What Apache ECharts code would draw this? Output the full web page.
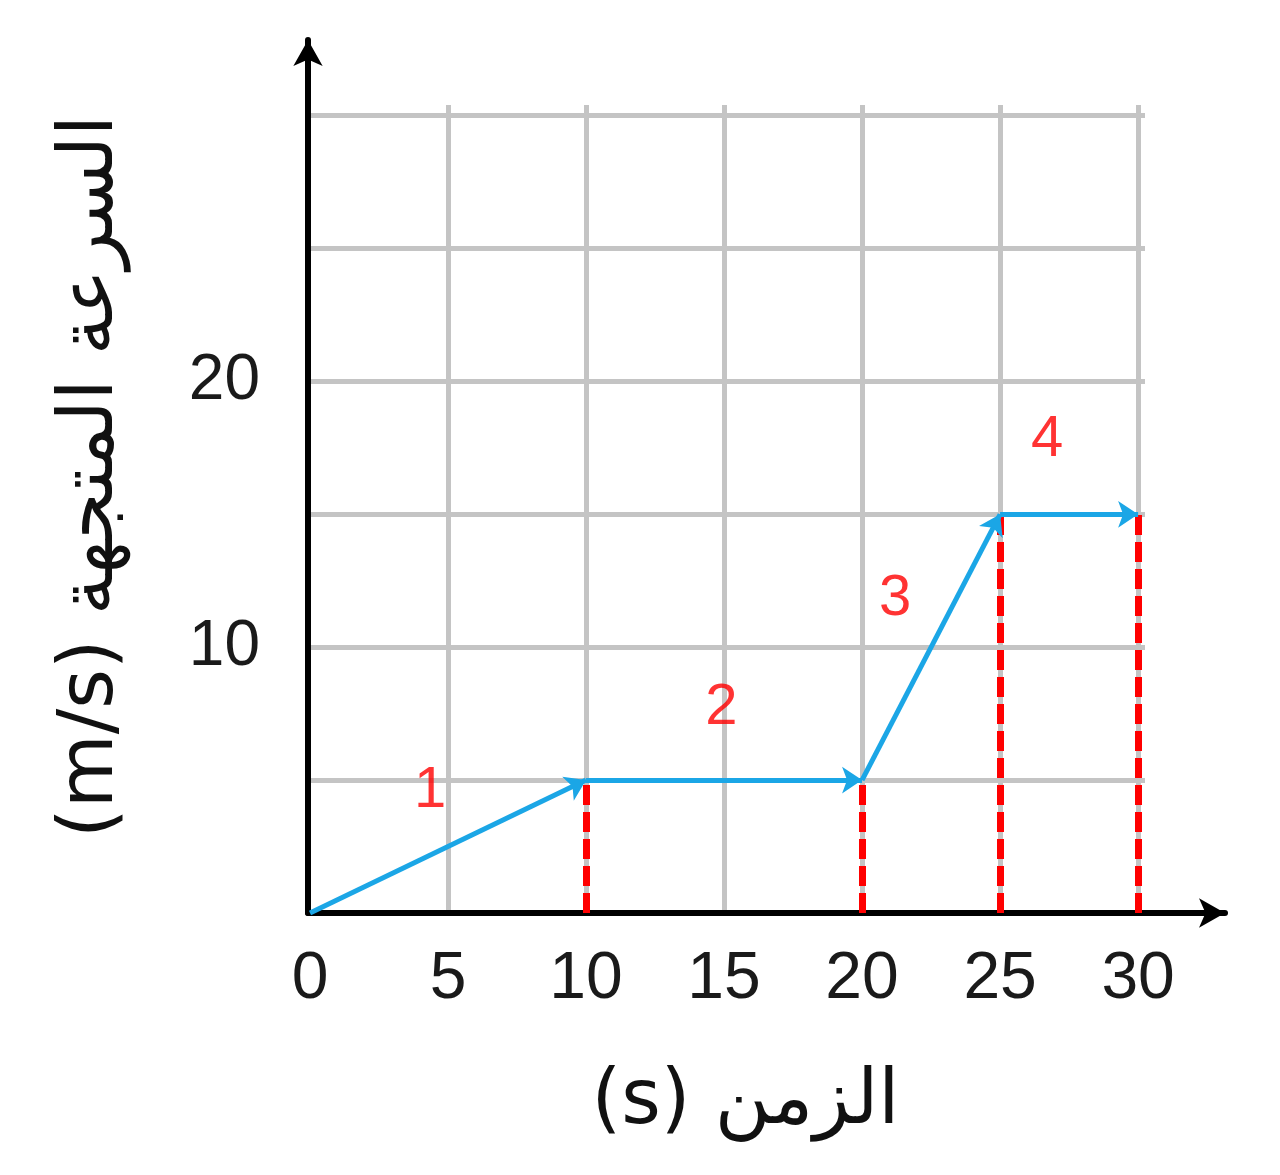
<!DOCTYPE html>
<html>
<head>
<meta charset="utf-8">
<script src="https://cdn.jsdelivr.net/npm/echarts@6/dist/echarts.min.js"></script>
<style>
html,body{margin:0;padding:0;background:#fff;}
#chart{width:1280px;height:1175px;}
</style>
</head>
<body>
<div id="chart"></div>
<script>
// Data
const timePoints = [0, 10, 20, 25, 30];          // s
const velocities = [0, 5, 5, 15, 15];           // m/s
const dropTimes = [10, 20, 25, 30];             // red dashed guides
const segmentLabels = ['1', '2', '3', '4'];
const segmentLabelX = [4.35, 14.9, 21.2, 26.7];
const segmentLabelY = [4.6, 7.7, 11.8, 17.8];
const xTickLabels = [0, 5, 10, 15, 20, 25, 30];
const yTickLabels = [10, 20];
const xTitle = 'الزمن (s)';
const yTitle = 'السرعة المتجهة (m/s)';

const rtl = s => '\u202B' + s + '\u202C';

const blueSegments = [];
for (let i = 0; i < timePoints.length - 1; i++) {
  blueSegments.push({ coords: [[timePoints[i], velocities[i]], [timePoints[i + 1], velocities[i + 1]]] });
}
const redSegments = dropTimes.map(t => {
  const v = velocities[timePoints.indexOf(t)];
  return { coords: [[t, 0], [t, v]] };
});
const labelData = segmentLabels.map((s, i) => ({ name: s, value: [segmentLabelX[i], segmentLabelY[i]] }));

const FONT = 'Liberation Sans, DejaVu Sans, sans-serif';
const chart = echarts.init(document.getElementById('chart'));
chart.setOption({
  backgroundColor: '#fff',
  animation: false,
  grid: [
    { left: 310, right: 135, top: 105, bottom: 262 },
    { left: 308, right: 55, top: 40, bottom: 262 }
  ],
  xAxis: [
    {
      gridIndex: 0, type: 'value', min: 0, max: 30.25, interval: 5,
      axisLine: { show: false }, axisTick: { show: false },
      axisLabel: {
        margin: 34, fontSize: 66, color: '#1a1a1a', fontFamily: FONT,
        formatter: v => (xTickLabels.indexOf(v) >= 0 ? String(v) : '')
      },
      splitLine: { show: true, showMaxLine: false, showMinLine: false, lineStyle: { color: '#c4c4c4', width: 5 } },
      name: rtl(xTitle), nameLocation: 'middle', nameGap: 152,
      nameTextStyle: { fontSize: 76, color: '#111', fontFamily: 'DejaVu Sans, sans-serif', padding: [0, 0, 0, 36] }
    },
    {
      gridIndex: 1, type: 'value', min: 0, max: 1,
      axisLine: { show: true, symbol: ['none', 'arrow'], symbolSize: [22, 26], lineStyle: { color: '#000', width: 6 } },
      axisTick: { show: false }, axisLabel: { show: false }, splitLine: { show: false }
    }
  ],
  yAxis: [
    {
      gridIndex: 0, type: 'value', min: 0, max: 30.4, interval: 5,
      axisLine: { show: false }, axisTick: { show: false },
      axisLabel: {
        margin: 50, fontSize: 64, color: '#1a1a1a', fontFamily: FONT,
        formatter: v => (yTickLabels.indexOf(v) >= 0 ? String(v) : '')
      },
      splitLine: { show: true, showMaxLine: false, showMinLine: false, lineStyle: { color: '#c4c4c4', width: 5 } }
    },
    {
      gridIndex: 1, type: 'value', min: 0, max: 1,
      axisLine: { show: true, symbol: ['none', 'arrow'], symbolSize: [22, 26], lineStyle: { color: '#000', width: 6 } },
      axisTick: { show: false }, axisLabel: { show: false }, splitLine: { show: false },
      name: rtl(yTitle), nameLocation: 'middle', nameGap: 178, nameRotate: 90,
      nameTextStyle: { fontSize: 76, color: '#111', fontFamily: 'DejaVu Sans, sans-serif' }
    }
  ],
  series: [
    {
      type: 'lines', coordinateSystem: 'cartesian2d', xAxisIndex: 0, yAxisIndex: 0,
      data: redSegments, symbol: ['none', 'none'],
      lineStyle: { color: '#ff0000', width: 7, type: [20, 7], opacity: 1 },
      z: 3
    },
    {
      type: 'lines', coordinateSystem: 'cartesian2d', xAxisIndex: 0, yAxisIndex: 0,
      data: blueSegments, symbol: ['none', 'arrow'], symbolSize: 20,
      lineStyle: { color: '#1ba6e6', width: 5, opacity: 1 },
      z: 4
    },
    {
      type: 'scatter', xAxisIndex: 0, yAxisIndex: 0, symbolSize: 0,
      data: labelData,
      label: { show: true, position: 'inside', formatter: p => p.name, color: '#ff0000', fontSize: 58, fontFamily: FONT },
      z: 5
    }
  ]
});
</script>
</body>
</html>
